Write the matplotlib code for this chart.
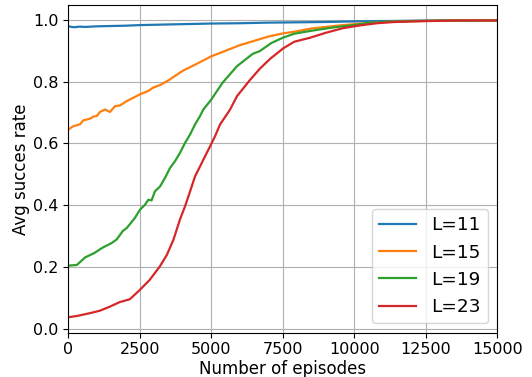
import matplotlib
matplotlib.use("Agg")
import matplotlib.pyplot as plt

# ---- data ----
x_l11 = [0, 200, 400, 600, 1000, 1500, 2000, 2500, 3000, 3500, 4000, 4500, 5000, 6000,
         7000, 8000, 9000, 10000, 11000, 12000, 13000, 14000, 15000]
y_l11 = [0.979, 0.976, 0.978, 0.977, 0.979, 0.980, 0.981, 0.983, 0.984, 0.985, 0.986,
         0.987, 0.988, 0.989, 0.991, 0.992, 0.993, 0.995, 0.996, 0.997, 0.998, 0.998,
         0.998]

x_l15 = [0, 180, 410, 530, 760, 880, 1000, 1110, 1290, 1460, 1640, 1810, 2045, 2275,
         2510, 2800, 2975, 3210, 3500, 4000, 4500, 5000, 5500, 6000, 6500, 7000, 7500,
         8000, 8500, 9000, 9500, 10000, 10500, 11000, 12000, 13000, 14000, 15000]
y_l15 = [0.645, 0.656, 0.662, 0.675, 0.680, 0.687, 0.689, 0.702, 0.710, 0.702, 0.721,
         0.723, 0.737, 0.748, 0.759, 0.770, 0.781, 0.789, 0.804, 0.835, 0.858, 0.882,
         0.900, 0.918, 0.932, 0.946, 0.956, 0.963, 0.972, 0.977, 0.982, 0.986, 0.990,
         0.993, 0.996, 0.997, 0.998, 0.998]

x_l19 = [0, 300, 600, 900, 1200, 1500, 1700, 1900, 2050, 2330, 2510, 2685, 2800, 2915,
         3030, 3210, 3385, 3560, 3735, 3910, 4085, 4260, 4435, 4610, 4725, 5000, 5400,
         5900, 6450, 6700, 7100, 7500, 7900, 8200, 8800, 9400, 10000, 10500, 11000,
         12000, 13000, 15000]
y_l19 = [0.205, 0.207, 0.232, 0.245, 0.263, 0.277, 0.290, 0.316, 0.327, 0.359, 0.386,
         0.402, 0.418, 0.416, 0.445, 0.461, 0.489, 0.521, 0.543, 0.570, 0.602, 0.629,
         0.662, 0.689, 0.710, 0.742, 0.797, 0.850, 0.890, 0.899, 0.925, 0.942, 0.955,
         0.960, 0.969, 0.977, 0.983, 0.990, 0.993, 0.996, 0.997, 0.998]

x_l23 = [0, 300, 750, 1100, 1450, 1800, 2150, 2500, 2850, 3200, 3450, 3680, 3910, 4085,
         4260, 4435, 4610, 4785, 4960, 5135, 5310, 5545, 5660, 5900, 6350, 6700, 7060,
         7520, 7900, 8450, 9000, 9600, 10200, 10800, 11400, 12500, 13700, 15000]
y_l23 = [0.038, 0.042, 0.051, 0.059, 0.072, 0.087, 0.096, 0.126, 0.159, 0.202, 0.240,
         0.289, 0.355, 0.397, 0.445, 0.494, 0.526, 0.559, 0.591, 0.624, 0.662, 0.694,
         0.710, 0.753, 0.805, 0.842, 0.874, 0.908, 0.929, 0.942, 0.958, 0.973, 0.982,
         0.989, 0.993, 0.996, 0.998, 0.998]

labels = ["L=11", "L=15", "L=19", "L=23"]

fig = plt.figure(figsize=(5.32, 3.77), dpi=100)
ax = fig.add_axes([68.2 / 532, 1 - 332.7 / 377, (497.3 - 68.2) / 532, (332.7 - 5.3) / 377])

for xs, ys, lab in [(x_l11, y_l11, labels[0]), (x_l15, y_l15, labels[1]),
                    (x_l19, y_l19, labels[2]), (x_l23, y_l23, labels[3])]:
    ax.plot(xs, ys, label=lab, linewidth=1.6)

ax.set_xlim(0, 15000)
ax.set_ylim(-0.012, 1.047)
ax.set_xticks([0, 2500, 5000, 7500, 10000, 12500, 15000])
ax.set_yticks([0.0, 0.2, 0.4, 0.6, 0.8, 1.0])
ax.tick_params(labelsize=11.5)
ax.grid(True)
ax.set_xlabel("Number of episodes", fontsize=12, labelpad=2)
ax.set_ylabel("Avg succes rate", fontsize=12, labelpad=2)
ax.legend(loc="lower right", fontsize=13.3)

fig.savefig("out.png", dpi=100)
